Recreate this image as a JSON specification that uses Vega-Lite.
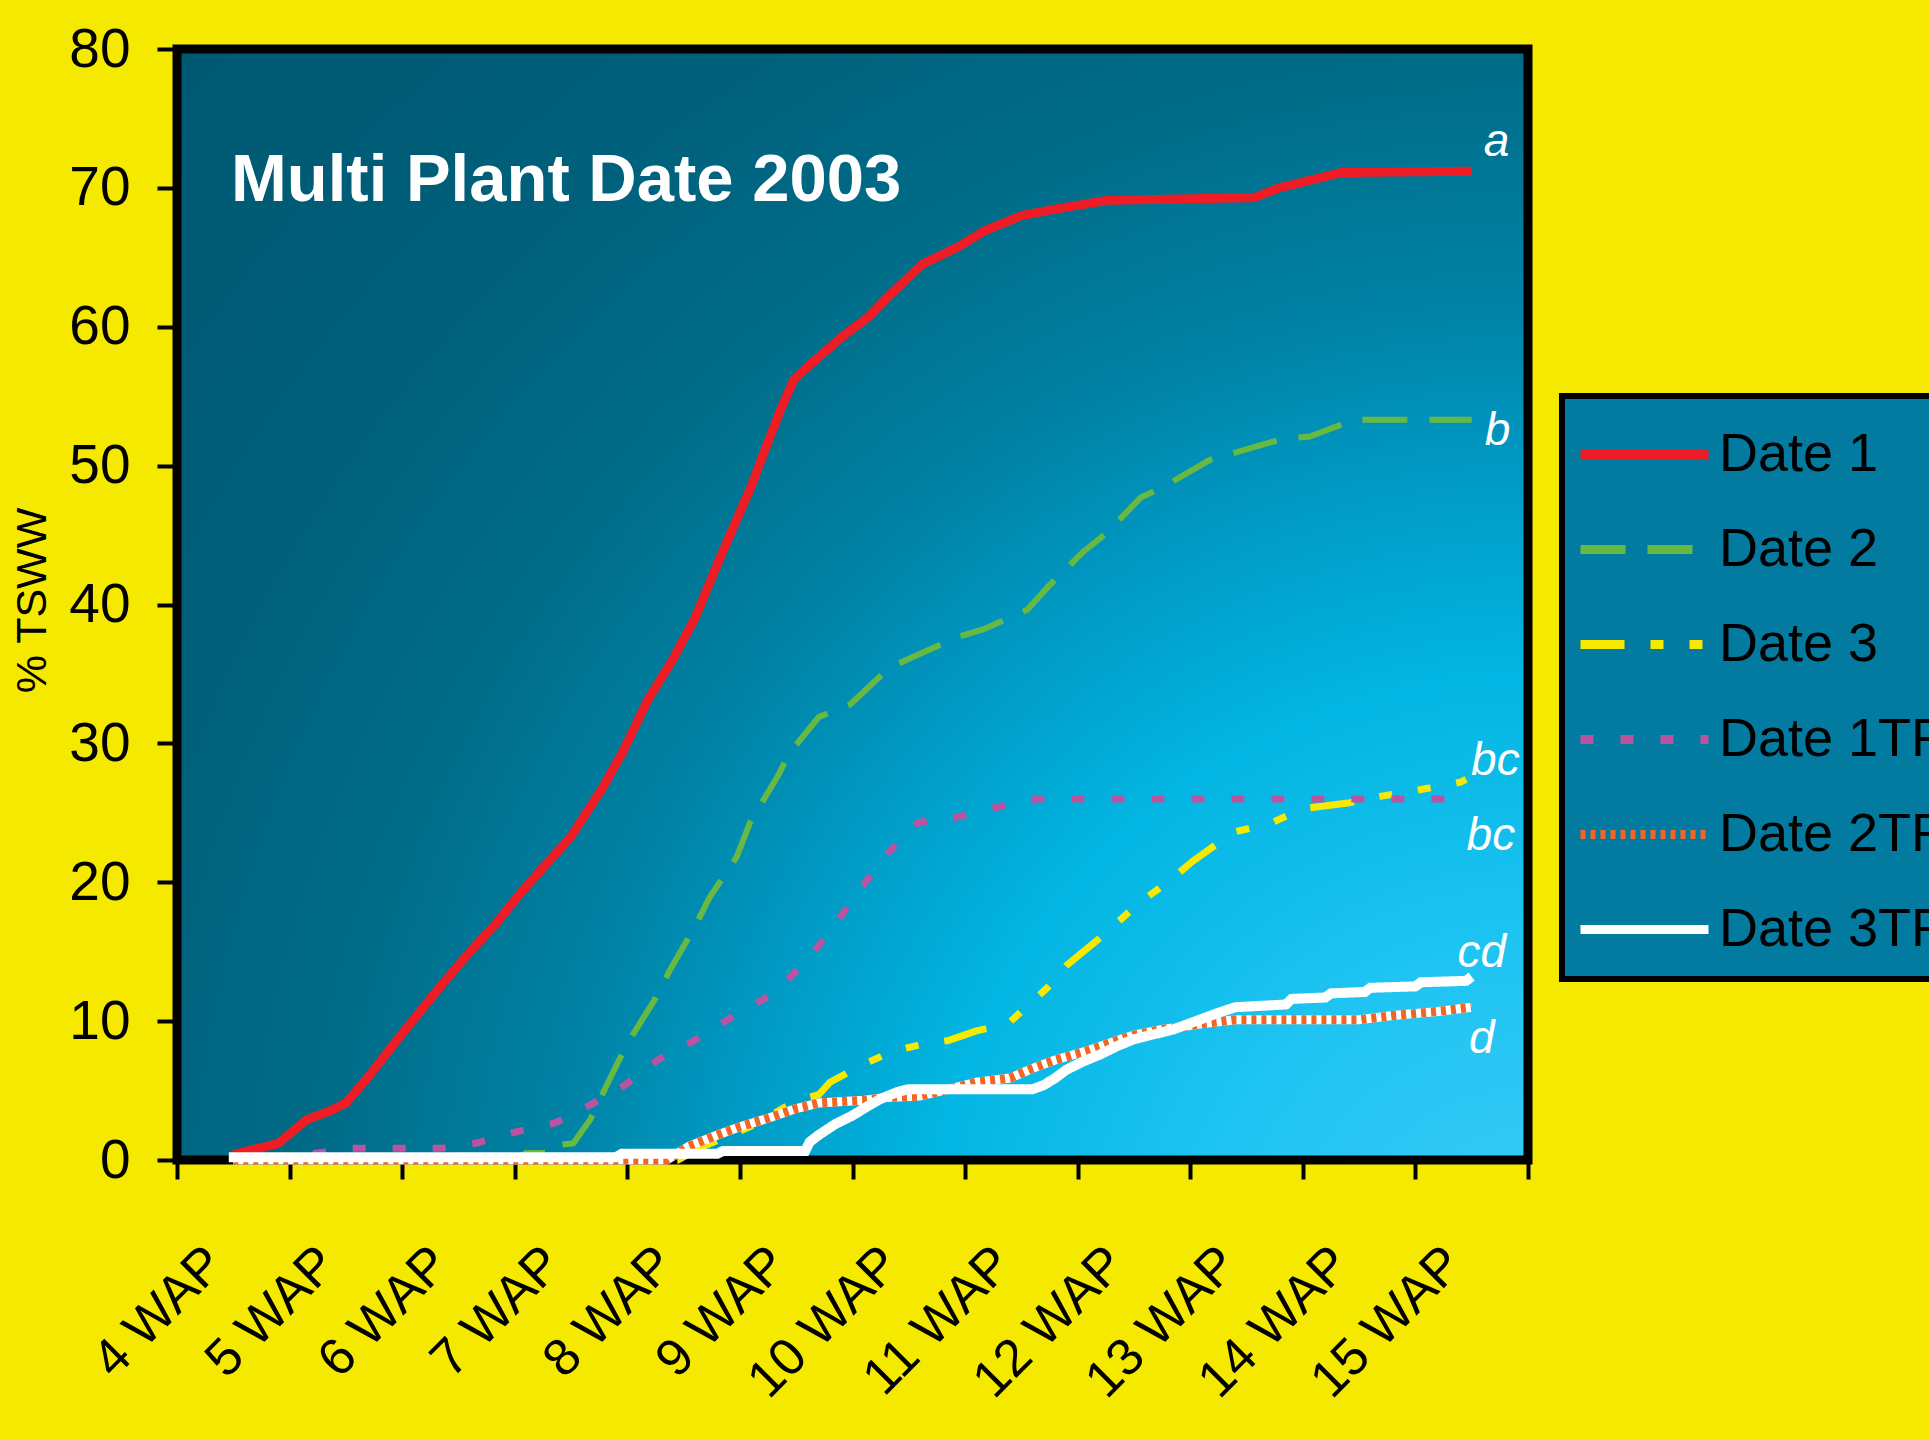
{
  "$schema": "https://vega.github.io/schema/vega-lite/v6.json",
  "width": 1351,
  "height": 1111,
  "autosize": {"type": "none"},
  "padding": {"left": 177, "top": 49, "right": 401, "bottom": 280},
  "background": "#f6e900",
  "title": {
    "text": "Multi Plant Date 2003",
    "orient": "top",
    "anchor": "start",
    "frame": "group",
    "offset": 0,
    "dx": 54,
    "dy": 246,
    "baseline": "alphabetic",
    "color": "white",
    "font": "Liberation Sans",
    "fontSize": 67,
    "fontWeight": "bold"
  },
  "config": {
    "view": {"stroke": null},
    "legend": {"strokeWidth": 6}
  },
  "datasets": {
    "frame": [{"x0": 3.5, "x1": 15.5, "y0": 0, "y1": 80}],
    "labels": [
      {"label": "a", "week": 15.22, "pct": 72.3},
      {"label": "b", "week": 15.23, "pct": 51.5},
      {"label": "bc", "week": 15.21, "pct": 27.7},
      {"label": "bc", "week": 15.17, "pct": 22.3},
      {"label": "cd", "week": 15.09, "pct": 13.9},
      {"label": "d", "week": 15.09, "pct": 7.7}
    ],
    "lines": [
      {"series": "Date 1", "week": 4.0, "pct": 0.4},
      {"series": "Date 1", "week": 4.4, "pct": 1.2},
      {"series": "Date 1", "week": 4.65, "pct": 2.9},
      {"series": "Date 1", "week": 4.85, "pct": 3.5},
      {"series": "Date 1", "week": 5.0, "pct": 4.1},
      {"series": "Date 1", "week": 5.2, "pct": 6.0},
      {"series": "Date 1", "week": 5.48, "pct": 8.9},
      {"series": "Date 1", "week": 5.84, "pct": 12.5},
      {"series": "Date 1", "week": 6.08, "pct": 14.8},
      {"series": "Date 1", "week": 6.31, "pct": 16.8},
      {"series": "Date 1", "week": 6.57, "pct": 19.4},
      {"series": "Date 1", "week": 7.0, "pct": 23.3},
      {"series": "Date 1", "week": 7.28, "pct": 26.8},
      {"series": "Date 1", "week": 7.46, "pct": 29.4},
      {"series": "Date 1", "week": 7.68, "pct": 33.1},
      {"series": "Date 1", "week": 7.9, "pct": 36.0},
      {"series": "Date 1", "week": 8.1, "pct": 39.0},
      {"series": "Date 1", "week": 8.32, "pct": 43.3},
      {"series": "Date 1", "week": 8.6, "pct": 48.5},
      {"series": "Date 1", "week": 8.73, "pct": 51.3},
      {"series": "Date 1", "week": 8.87, "pct": 54.2},
      {"series": "Date 1", "week": 8.98, "pct": 56.2},
      {"series": "Date 1", "week": 9.14, "pct": 57.4},
      {"series": "Date 1", "week": 9.41, "pct": 59.3},
      {"series": "Date 1", "week": 9.64, "pct": 60.7},
      {"series": "Date 1", "week": 9.82, "pct": 62.2},
      {"series": "Date 1", "week": 10.12, "pct": 64.5},
      {"series": "Date 1", "week": 10.45, "pct": 65.8},
      {"series": "Date 1", "week": 10.67, "pct": 66.9},
      {"series": "Date 1", "week": 11.0, "pct": 68.0},
      {"series": "Date 1", "week": 11.32, "pct": 68.5},
      {"series": "Date 1", "week": 11.76, "pct": 69.1},
      {"series": "Date 1", "week": 13.07, "pct": 69.3},
      {"series": "Date 1", "week": 13.29, "pct": 70.0},
      {"series": "Date 1", "week": 13.84, "pct": 71.1},
      {"series": "Date 1", "week": 15.0, "pct": 71.2},

      {"series": "Date 2", "week": 4.0, "pct": 0},
      {"series": "Date 2", "week": 6.55, "pct": 0.2},
      {"series": "Date 2", "week": 6.6, "pct": 0.5},
      {"series": "Date 2", "week": 6.85, "pct": 0.5},
      {"series": "Date 2", "week": 6.9, "pct": 1.1},
      {"series": "Date 2", "week": 7.02, "pct": 1.2},
      {"series": "Date 2", "week": 7.17, "pct": 2.9},
      {"series": "Date 2", "week": 7.36, "pct": 6.1},
      {"series": "Date 2", "week": 7.5, "pct": 8.4},
      {"series": "Date 2", "week": 7.74, "pct": 11.5},
      {"series": "Date 2", "week": 7.88, "pct": 13.7},
      {"series": "Date 2", "week": 8.1, "pct": 16.8},
      {"series": "Date 2", "week": 8.23, "pct": 18.9},
      {"series": "Date 2", "week": 8.47, "pct": 21.8},
      {"series": "Date 2", "week": 8.59, "pct": 24.3},
      {"series": "Date 2", "week": 8.84, "pct": 27.7},
      {"series": "Date 2", "week": 8.94, "pct": 29.3},
      {"series": "Date 2", "week": 9.2, "pct": 31.9},
      {"series": "Date 2", "week": 9.48, "pct": 32.8},
      {"series": "Date 2", "week": 9.82, "pct": 35.4},
      {"series": "Date 2", "week": 10.03, "pct": 36.2},
      {"series": "Date 2", "week": 10.45, "pct": 37.7},
      {"series": "Date 2", "week": 10.66, "pct": 38.2},
      {"series": "Date 2", "week": 11.05, "pct": 39.6},
      {"series": "Date 2", "week": 11.24, "pct": 41.3},
      {"series": "Date 2", "week": 11.55, "pct": 43.8},
      {"series": "Date 2", "week": 11.75, "pct": 45.1},
      {"series": "Date 2", "week": 12.06, "pct": 47.7},
      {"series": "Date 2", "week": 12.27, "pct": 48.5},
      {"series": "Date 2", "week": 12.67, "pct": 50.4},
      {"series": "Date 2", "week": 12.88, "pct": 50.9},
      {"series": "Date 2", "week": 13.31, "pct": 51.9},
      {"series": "Date 2", "week": 13.56, "pct": 52.1},
      {"series": "Date 2", "week": 13.96, "pct": 53.3},
      {"series": "Date 2", "week": 15.0, "pct": 53.3},

      {"series": "Date 3", "week": 4.0, "pct": 0},
      {"series": "Date 3", "week": 7.95, "pct": 0},
      {"series": "Date 3", "week": 8.15, "pct": 0.9},
      {"series": "Date 3", "week": 8.3, "pct": 1.4},
      {"series": "Date 3", "week": 8.65, "pct": 2.6},
      {"series": "Date 3", "week": 9.0, "pct": 4.3},
      {"series": "Date 3", "week": 9.2, "pct": 4.7},
      {"series": "Date 3", "week": 9.3, "pct": 5.6},
      {"series": "Date 3", "week": 9.6, "pct": 6.9},
      {"series": "Date 3", "week": 9.85, "pct": 7.8},
      {"series": "Date 3", "week": 10.1, "pct": 8.3},
      {"series": "Date 3", "week": 10.35, "pct": 8.6},
      {"series": "Date 3", "week": 10.6, "pct": 9.3},
      {"series": "Date 3", "week": 10.88, "pct": 9.8},
      {"series": "Date 3", "week": 11.23, "pct": 12.4},
      {"series": "Date 3", "week": 11.4, "pct": 14.0},
      {"series": "Date 3", "week": 11.7, "pct": 16.0},
      {"series": "Date 3", "week": 12.06, "pct": 18.6},
      {"series": "Date 3", "week": 12.3, "pct": 20.0},
      {"series": "Date 3", "week": 12.52, "pct": 21.5},
      {"series": "Date 3", "week": 12.88, "pct": 23.6},
      {"series": "Date 3", "week": 13.2, "pct": 24.2},
      {"series": "Date 3", "week": 13.5, "pct": 25.3},
      {"series": "Date 3", "week": 13.9, "pct": 25.7},
      {"series": "Date 3", "week": 14.2, "pct": 26.2},
      {"series": "Date 3", "week": 14.5, "pct": 26.6},
      {"series": "Date 3", "week": 14.9, "pct": 27.2},
      {"series": "Date 3", "week": 14.95, "pct": 27.4},

      {"series": "Date 1TR", "week": 4.0, "pct": 0},
      {"series": "Date 1TR", "week": 4.5, "pct": 0.3},
      {"series": "Date 1TR", "week": 4.75, "pct": 0.5},
      {"series": "Date 1TR", "week": 5.05, "pct": 0.85},
      {"series": "Date 1TR", "week": 5.85, "pct": 0.85},
      {"series": "Date 1TR", "week": 6.15, "pct": 1.2},
      {"series": "Date 1TR", "week": 6.5, "pct": 2.0},
      {"series": "Date 1TR", "week": 6.87, "pct": 2.7},
      {"series": "Date 1TR", "week": 7.2, "pct": 4.1},
      {"series": "Date 1TR", "week": 7.48, "pct": 5.4},
      {"series": "Date 1TR", "week": 7.77, "pct": 7.2},
      {"series": "Date 1TR", "week": 8.14, "pct": 8.8},
      {"series": "Date 1TR", "week": 8.45, "pct": 10.4},
      {"series": "Date 1TR", "week": 8.8, "pct": 12.0},
      {"series": "Date 1TR", "week": 9.08, "pct": 14.2},
      {"series": "Date 1TR", "week": 9.33, "pct": 16.8},
      {"series": "Date 1TR", "week": 9.57, "pct": 19.5},
      {"series": "Date 1TR", "week": 9.8, "pct": 22.0},
      {"series": "Date 1TR", "week": 10.08, "pct": 24.3},
      {"series": "Date 1TR", "week": 10.43, "pct": 24.7},
      {"series": "Date 1TR", "week": 10.78, "pct": 25.4},
      {"series": "Date 1TR", "week": 11.14, "pct": 26.0},
      {"series": "Date 1TR", "week": 15.0, "pct": 26.0},

      {"series": "Date 2TR", "week": 4.0, "pct": 0},
      {"series": "Date 2TR", "week": 7.85, "pct": 0},
      {"series": "Date 2TR", "week": 8.05, "pct": 1.0},
      {"series": "Date 2TR", "week": 8.3, "pct": 1.8},
      {"series": "Date 2TR", "week": 8.5, "pct": 2.4},
      {"series": "Date 2TR", "week": 8.75, "pct": 3.0},
      {"series": "Date 2TR", "week": 9.0, "pct": 3.7},
      {"series": "Date 2TR", "week": 9.2, "pct": 4.1},
      {"series": "Date 2TR", "week": 9.6, "pct": 4.3},
      {"series": "Date 2TR", "week": 9.8, "pct": 4.5},
      {"series": "Date 2TR", "week": 10.1, "pct": 4.6},
      {"series": "Date 2TR", "week": 10.4, "pct": 5.2},
      {"series": "Date 2TR", "week": 10.6, "pct": 5.6},
      {"series": "Date 2TR", "week": 10.9, "pct": 5.9},
      {"series": "Date 2TR", "week": 11.1, "pct": 6.6},
      {"series": "Date 2TR", "week": 11.3, "pct": 7.2},
      {"series": "Date 2TR", "week": 11.6, "pct": 7.9},
      {"series": "Date 2TR", "week": 11.85, "pct": 8.6},
      {"series": "Date 2TR", "week": 12.0, "pct": 9.0},
      {"series": "Date 2TR", "week": 12.25, "pct": 9.4},
      {"series": "Date 2TR", "week": 12.6, "pct": 9.8},
      {"series": "Date 2TR", "week": 12.9, "pct": 10.1},
      {"series": "Date 2TR", "week": 14.0, "pct": 10.1},
      {"series": "Date 2TR", "week": 14.3, "pct": 10.4},
      {"series": "Date 2TR", "week": 14.7, "pct": 10.7},
      {"series": "Date 2TR", "week": 15.0, "pct": 11.0},

      {"series": "Date 3TR", "week": 3.96, "pct": 0.2},
      {"series": "Date 3TR", "week": 7.4, "pct": 0.2},
      {"series": "Date 3TR", "week": 7.45, "pct": 0.45},
      {"series": "Date 3TR", "week": 8.3, "pct": 0.45},
      {"series": "Date 3TR", "week": 8.35, "pct": 0.65},
      {"series": "Date 3TR", "week": 9.08, "pct": 0.65},
      {"series": "Date 3TR", "week": 9.12, "pct": 1.3},
      {"series": "Date 3TR", "week": 9.2, "pct": 1.8},
      {"series": "Date 3TR", "week": 9.35, "pct": 2.6},
      {"series": "Date 3TR", "week": 9.5, "pct": 3.2},
      {"series": "Date 3TR", "week": 9.62, "pct": 3.8},
      {"series": "Date 3TR", "week": 9.75, "pct": 4.4},
      {"series": "Date 3TR", "week": 9.9, "pct": 4.9},
      {"series": "Date 3TR", "week": 10.0, "pct": 5.1},
      {"series": "Date 3TR", "week": 11.1, "pct": 5.1},
      {"series": "Date 3TR", "week": 11.2, "pct": 5.4},
      {"series": "Date 3TR", "week": 11.3, "pct": 5.9},
      {"series": "Date 3TR", "week": 11.4, "pct": 6.5},
      {"series": "Date 3TR", "week": 11.55, "pct": 7.1},
      {"series": "Date 3TR", "week": 11.7, "pct": 7.6},
      {"series": "Date 3TR", "week": 11.85, "pct": 8.2},
      {"series": "Date 3TR", "week": 12.0, "pct": 8.7},
      {"series": "Date 3TR", "week": 12.15, "pct": 9.0},
      {"series": "Date 3TR", "week": 12.35, "pct": 9.4},
      {"series": "Date 3TR", "week": 12.55, "pct": 10.0},
      {"series": "Date 3TR", "week": 12.75, "pct": 10.6},
      {"series": "Date 3TR", "week": 12.9, "pct": 11.0},
      {"series": "Date 3TR", "week": 13.35, "pct": 11.2},
      {"series": "Date 3TR", "week": 13.4, "pct": 11.6},
      {"series": "Date 3TR", "week": 13.7, "pct": 11.7},
      {"series": "Date 3TR", "week": 13.75, "pct": 12.0},
      {"series": "Date 3TR", "week": 14.05, "pct": 12.1},
      {"series": "Date 3TR", "week": 14.1, "pct": 12.4},
      {"series": "Date 3TR", "week": 14.5, "pct": 12.5},
      {"series": "Date 3TR", "week": 14.55, "pct": 12.8},
      {"series": "Date 3TR", "week": 14.95, "pct": 12.9},
      {"series": "Date 3TR", "week": 15.0, "pct": 13.2}
    ]
  },
  "layer": [
    {
      "data": {"name": "frame"},
      "mark": {
        "type": "rect",
        "fill": {
          "gradient": "radial",
          "x1": 1, "y1": 1, "r1": 0,
          "x2": 1, "y2": 1, "r2": 1.45,
          "stops": [
            {"offset": 0, "color": "#3dcaf6"},
            {"offset": 0.17, "color": "#1ec4f2"},
            {"offset": 0.31, "color": "#02b5e2"},
            {"offset": 0.42, "color": "#0098c2"},
            {"offset": 0.5, "color": "#0082a5"},
            {"offset": 0.62, "color": "#006c88"},
            {"offset": 0.75, "color": "#005f7a"},
            {"offset": 1, "color": "#00566e"}
          ]
        }
      },
      "encoding": {
        "x": {
          "field": "x0", "type": "quantitative",
          "scale": {"domain": [3.5, 15.5], "nice": false, "zero": false},
          "axis": {
            "values": [3.5, 4.5, 5.5, 6.5, 7.5, 8.5, 9.5, 10.5, 11.5, 12.5, 13.5, 14.5, 15.5],
            "labelExpr": "datum.value < 15 ? (datum.value + 0.5) + ' WAP' : ''",
            "labelAngle": -45,
            "labelAlign": "right",
            "labelBaseline": "middle",
            "labelOffset": 38,
            "labelPadding": 76,
            "labelFont": "Liberation Sans",
            "labelFontSize": 52,
            "labelLimit": 500,
            "labelColor": "black",
            "labelOverlap": false,
            "labelFlush": false,
            "labelBound": false,
            "tickSize": 19,
            "tickWidth": 4,
            "tickColor": "black",
            "domain": false,
            "grid": false,
            "title": null
          }
        },
        "x2": {"field": "x1"},
        "y": {
          "field": "y0", "type": "quantitative",
          "scale": {"domain": [0, 80], "nice": false, "zero": true},
          "axis": {
            "values": [0, 10, 20, 30, 40, 50, 60, 70, 80],
            "labelFont": "Liberation Sans",
            "labelFontSize": 55,
            "labelColor": "black",
            "labelPadding": 27,
            "labelBaseline": "middle",
            "labelOverlap": false,
            "labelFlush": false,
            "labelBound": false,
            "tickSize": 20,
            "tickWidth": 4,
            "tickColor": "black",
            "domain": false,
            "grid": false,
            "title": "% TSWW",
            "titleFont": "Liberation Sans",
            "titleFontSize": 43,
            "titleFontWeight": "normal",
            "titleColor": "black",
            "titleAngle": -90,
            "titleAlign": "center",
            "titleBaseline": "middle",
            "titleX": -145,
            "titleY": 551
          }
        },
        "y2": {"field": "y1"}
      }
    },
    {
      "data": {"name": "frame"},
      "mark": {"type": "rect", "filled": false, "stroke": "black", "strokeWidth": 9},
      "encoding": {
        "x": {"field": "x0", "type": "quantitative"},
        "x2": {"field": "x1"},
        "y": {"field": "y0", "type": "quantitative"},
        "y2": {"field": "y1"}
      }
    },
    {
      "data": {"name": "lines"},
      "transform": [{"filter": "datum.series === 'Date 1'"}],
      "mark": {"type": "line", "strokeWidth": 9, "strokeCap": "butt"},
      "encoding": {
        "x": {"field": "week", "type": "quantitative"},
        "y": {"field": "pct", "type": "quantitative"},
        "color": {
          "field": "series", "type": "nominal",
          "scale": {
            "domain": ["Date 1", "Date 2", "Date 3", "Date 1TR", "Date 2TR", "Date 3TR"],
            "range": ["#ee1d25", "#68b844", "#f7ea00", "#bb54a0", "#f26522", "#ffffff"]
          },
          "legend": {
            "title": null,
            "orient": "none",
            "legendX": 1385,
            "legendY": 347,
            "symbolType": "M-2,0H2",
            "symbolSize": 4096,
            "symbolStrokeWidth": 9,
            "symbolOffset": 24,
            "labelFont": "Liberation Sans",
            "labelFontSize": 54,
            "labelColor": "black",
            "labelOffset": 38,
            "labelLimit": 600,
            "padding": 22,
            "rowPadding": 31,
            "strokeColor": "black",
            "fillColor": "#037a9f"
          }
        },
        "strokeDash": {
          "field": "series", "type": "nominal",
          "scale": {
            "domain": ["Date 1", "Date 2", "Date 3", "Date 1TR", "Date 2TR", "Date 3TR"],
            "range": [[1, 0], [45, 22], [44, 26, 13, 26, 13, 26], [13, 27], [5, 5], [1, 0]]
          },
          "legend": {"title": null}
        }
      }
    },
    {
      "data": {"name": "lines"},
      "transform": [{"filter": "datum.series === 'Date 2'"}],
      "mark": {"type": "line", "strokeWidth": 6, "strokeCap": "butt"},
      "encoding": {
        "x": {"field": "week", "type": "quantitative"},
        "y": {"field": "pct", "type": "quantitative"},
        "color": {"field": "series", "type": "nominal"},
        "strokeDash": {"field": "series", "type": "nominal"}
      }
    },
    {
      "data": {"name": "lines"},
      "transform": [{"filter": "datum.series === 'Date 3' || datum.series === 'Date 1TR'"}],
      "mark": {"type": "line", "strokeWidth": 7, "strokeCap": "butt"},
      "encoding": {
        "x": {"field": "week", "type": "quantitative"},
        "y": {"field": "pct", "type": "quantitative"},
        "color": {"field": "series", "type": "nominal"},
        "strokeDash": {"field": "series", "type": "nominal"}
      }
    },
    {
      "data": {"name": "lines"},
      "transform": [{"filter": "datum.series === 'Date 2TR'"}],
      "mark": {"type": "line", "color": "white", "strokeWidth": 9, "strokeCap": "butt"},
      "encoding": {
        "x": {"field": "week", "type": "quantitative"},
        "y": {"field": "pct", "type": "quantitative"}
      }
    },
    {
      "data": {"name": "lines"},
      "transform": [{"filter": "datum.series === 'Date 2TR'"}],
      "mark": {"type": "line", "strokeWidth": 9, "strokeCap": "butt"},
      "encoding": {
        "x": {"field": "week", "type": "quantitative"},
        "y": {"field": "pct", "type": "quantitative"},
        "color": {"field": "series", "type": "nominal"},
        "strokeDash": {"field": "series", "type": "nominal"}
      }
    },
    {
      "data": {"name": "lines"},
      "transform": [{"filter": "datum.series === 'Date 3TR'"}],
      "mark": {"type": "line", "strokeWidth": 10, "strokeCap": "butt"},
      "encoding": {
        "x": {"field": "week", "type": "quantitative"},
        "y": {"field": "pct", "type": "quantitative"},
        "color": {"field": "series", "type": "nominal"},
        "strokeDash": {"field": "series", "type": "nominal"}
      }
    },
    {
      "data": {"name": "labels"},
      "mark": {
        "type": "text",
        "color": "white",
        "font": "Liberation Sans",
        "fontStyle": "italic",
        "fontSize": 46,
        "align": "center",
        "baseline": "alphabetic"
      },
      "encoding": {
        "x": {"field": "week", "type": "quantitative"},
        "y": {"field": "pct", "type": "quantitative"},
        "text": {"field": "label"}
      }
    }
  ]
}
